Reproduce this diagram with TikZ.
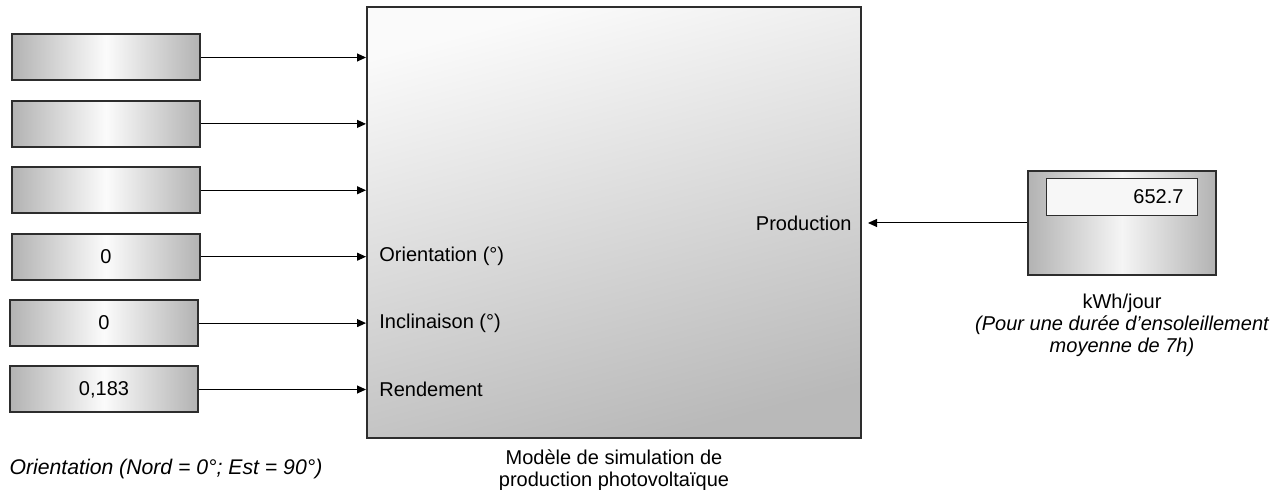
\documentclass[tikz,border=0pt]{standalone}
\usepackage{fontspec}
\setmainfont{Liberation Sans}
\usetikzlibrary{arrows.meta,positioning,calc}
\definecolor{mydark}{RGB}{45,45,45}
\newcommand{\diagfont}{\fontsize{10}{11}\selectfont}
\tikzset{
  entree/.style={rectangle,draw=mydark,line width=1pt,left color=gray!60,right color=gray!60,
    middle color=gray!3,minimum width=94pt,minimum height=23pt,inner sep=0pt,font=\diagfont},
  modele/.style={rectangle,draw=mydark,line width=1pt,top color=gray!4,bottom color=gray!55,
    shading angle=15,minimum width=247pt,minimum height=215.5pt,inner sep=0pt},
  afficheur/.style={rectangle,draw=mydark,line width=1pt,left color=gray!60,right color=gray!60,
    middle color=gray!8,minimum width=94pt,minimum height=52pt,inner sep=0pt},
  ecran/.style={rectangle,draw=mydark,line width=0.5pt,fill=gray!6,text width=61.5pt,align=right,
    inner xsep=7pt,inner ysep=0pt,minimum height=18.5pt,font=\diagfont},
  flow/.style={-{Triangle[length=4.5pt,width=4pt]},line width=0.5pt,color=black},
  portlab/.style={font=\diagfont,inner sep=0pt},
  legende/.style={align=center,font=\diagfont,inner sep=0pt},
}
\begin{document}
\begin{tikzpicture}[x=0.5pt,y=-0.5pt, node distance=9.2pt]
      \useasboundingbox (0,0) rectangle (1282,490);
      % bloc principal
      \node[modele] (mod) at (614,222.5) {};
      \node[legende,below=5pt of mod] (modlab) {Mod\`ele de simulation de\\production photovolta\"ique};
      % entrees
      \node[entree] (e1) at (106,57.5) {};
      \node[entree,below=of e1] (e2) {};
      \node[entree,below=of e2] (e3) {};
      \node[entree,below=of e3] (e4) {0};
      \node[entree,below=of e4,xshift=-1pt] (e5) {0};
      \node[entree,below=of e5] (e6) {0,183};
      \node[legende,font=\fontsize{10.6}{12}\selectfont\itshape] (note) at (166,469) {Orientation (Nord = 0°; Est = 90°)};
      \foreach \i in {1,...,6}
        \draw[flow] (e\i.east) -- (e\i.east -| mod.west);
      % ports
      \node[portlab,anchor=west] (pOri) at ($(e4.east -| mod.west)+(13,0)$) {Orientation (°)};
      \node[portlab,anchor=west] (pInc) at ($(e5.east -| mod.west)+(13,0)$) {Inclinaison (°)};
      \node[portlab,anchor=west] (pRen) at ($(e6.east -| mod.west)+(13,0)$) {Rendement};
      % afficheur
      \node[afficheur] (disp) at (1122,223) {};
      \node[ecran,anchor=north] (val) at ($(disp.north)+(0,8)$) {652.7};
      \node[portlab,anchor=east] (pProd) at ($(disp.west -| mod.east)+(-10,0)$) {Production};
      \draw[flow,shorten >=3pt] (disp.west) -- (disp.west -| mod.east);
      \node[legende,below=9pt of disp] (displab) {kWh/jour\\\itshape (Pour une dur\'ee d’ensoleillement\\\itshape moyenne de 7h)};
    \end{tikzpicture}
\end{document}
